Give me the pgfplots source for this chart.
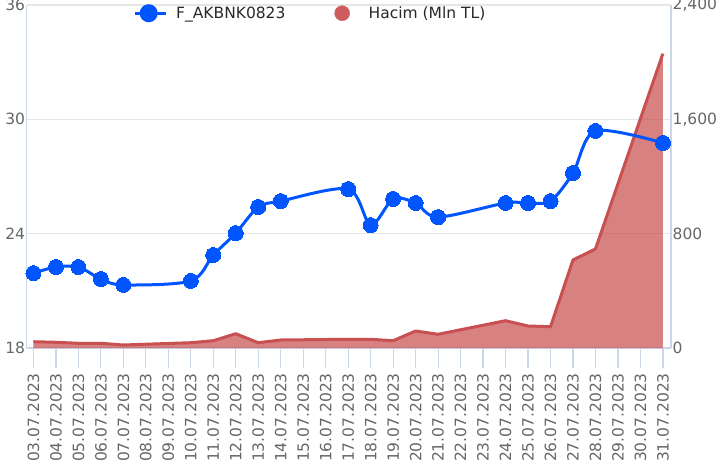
\documentclass[border=0pt]{standalone}
\usepackage{fontspec}
\setmainfont{DejaVu Sans}
\usepackage{pgfplots}
\pgfplotsset{compat=1.18}
\definecolor{cblue}{RGB}{0,85,255}
\definecolor{cred}{RGB}{200,80,80}
\definecolor{clegred}{RGB}{205,92,92}
\definecolor{cgrid}{RGB}{230,230,230}
\definecolor{caxis}{RGB}{204,214,235}
\definecolor{ctext}{RGB}{102,102,102}
\definecolor{clegtext}{RGB}{40,40,40}
\newcommand\lbl{\fontsize{15.5bp}{18bp}\selectfont}

\begin{document}
\begin{tikzpicture}
\useasboundingbox (-26.7bp,-122bp) rectangle (690.3bp,348bp);
% volume axis (right)
\begin{axis}[
  at={(0,0)}, anchor=south west,
  scale only axis, width=644.3bp, height=343bp,
  xmin=-0.3, xmax=28.36,
  ymin=0, ymax=2400,
  axis x line*=bottom, axis y line*=right,
  axis line style={draw=caxis, line width=1.2bp, -},
  /pgf/number format/assume math mode=true,
  xtick={0,...,28},
  xticklabels={03.07.2023,04.07.2023,05.07.2023,06.07.2023,07.07.2023,08.07.2023,09.07.2023,10.07.2023,11.07.2023,12.07.2023,13.07.2023,14.07.2023,15.07.2023,16.07.2023,17.07.2023,18.07.2023,19.07.2023,20.07.2023,21.07.2023,22.07.2023,23.07.2023,24.07.2023,25.07.2023,26.07.2023,27.07.2023,28.07.2023,29.07.2023,30.07.2023,31.07.2023},
  tick align=outside,
  major tick length=20bp,
  xtick style={draw=caxis, line width=1.2bp},
  xticklabel style={font=\lbl, text=ctext, rotate=90, anchor=east, inner sep=0pt},
  xticklabel shift=5bp,
  ytick={0,800,1600,2400},
  yticklabels={0,800,{1,600},{2,400}},
  ytick style={draw=none},
  yticklabel style={font=\lbl, text=ctext, inner sep=1.5bp, xshift=-20bp},
  ymajorgrids,
  major grid style={draw=cgrid, line width=1.3bp},
]
\addplot[draw=none, fill=cred, fill opacity=0.72] coordinates {
(0,44) (1,40) (2,33) (3,33) (4,21) (7,37) (8,51) (9,100) (10,37) (11,56)
(14,61) (15,61) (16,51) (17,119) (18,96) (21,191) (22,154) (23,149)
(24,616) (25,693) (28,2060)} \closedcycle;
\addplot[draw=cred, line width=3bp, line join=round] coordinates {
(0,44) (1,40) (2,33) (3,33) (4,21) (7,37) (8,51) (9,100) (10,37) (11,56)
(14,61) (15,61) (16,51) (17,119) (18,96) (21,191) (22,154) (23,149)
(24,616) (25,693) (28,2060)};
\end{axis}
% price axis (left)
\begin{axis}[
  at={(0,0)}, anchor=south west,
  scale only axis, width=644.3bp, height=343bp,
  xmin=-0.3, xmax=28.36,
  ymin=18, ymax=36,
  axis x line=none, axis y line*=left,
  axis line style={draw=caxis, line width=1.2bp, -},
  /pgf/number format/assume math mode=true,
  xtick=\empty,
  ytick={18,24,30,36},
  ytick style={draw=none},
  yticklabel style={font=\lbl, text=ctext, inner sep=1.5bp},
  clip=false,
  legend columns=2,
  legend style={at={(0.165,0.976)}, anchor=west, draw=none, fill=none,
    inner sep=0pt, font=\lbl, text=clegtext, nodes={inner sep=0pt},
    /tikz/every odd column/.append style={column sep=9bp},
    /tikz/every even column/.append style={column sep=49bp}},
]
\addplot[cblue, line width=3bp, smooth, mark=*, mark size=7.5bp,
  mark options={solid, line width=0pt, fill=cblue, draw=cblue},
  legend image code/.code={\draw[cblue, line width=3bp] (0bp,0bp) -- (31bp,0bp); \fill[cblue] (14bp,0bp) circle (7.5bp);}]
coordinates {
(0,21.93) (1,22.25) (2,22.25) (3,21.62) (4,21.31) (7,21.52) (8,22.88)
(9,24.03) (10,25.40) (11,25.71) (14,26.34) (15,24.45) (16,25.82)
(17,25.61) (18,24.87) (21,25.61) (22,25.61) (23,25.71) (24,27.18)
(25,29.39) (28,28.76)};
\addlegendentry{F\_AKBNK0823}
\addlegendimage{legend image code/.code={\fill[clegred] (7.5bp,0bp) circle (7.5bp); \path[draw=none] (25bp,0bp);}}
\addlegendentry{Hacim (Mln TL)}
\end{axis}
\end{tikzpicture}
\end{document}
